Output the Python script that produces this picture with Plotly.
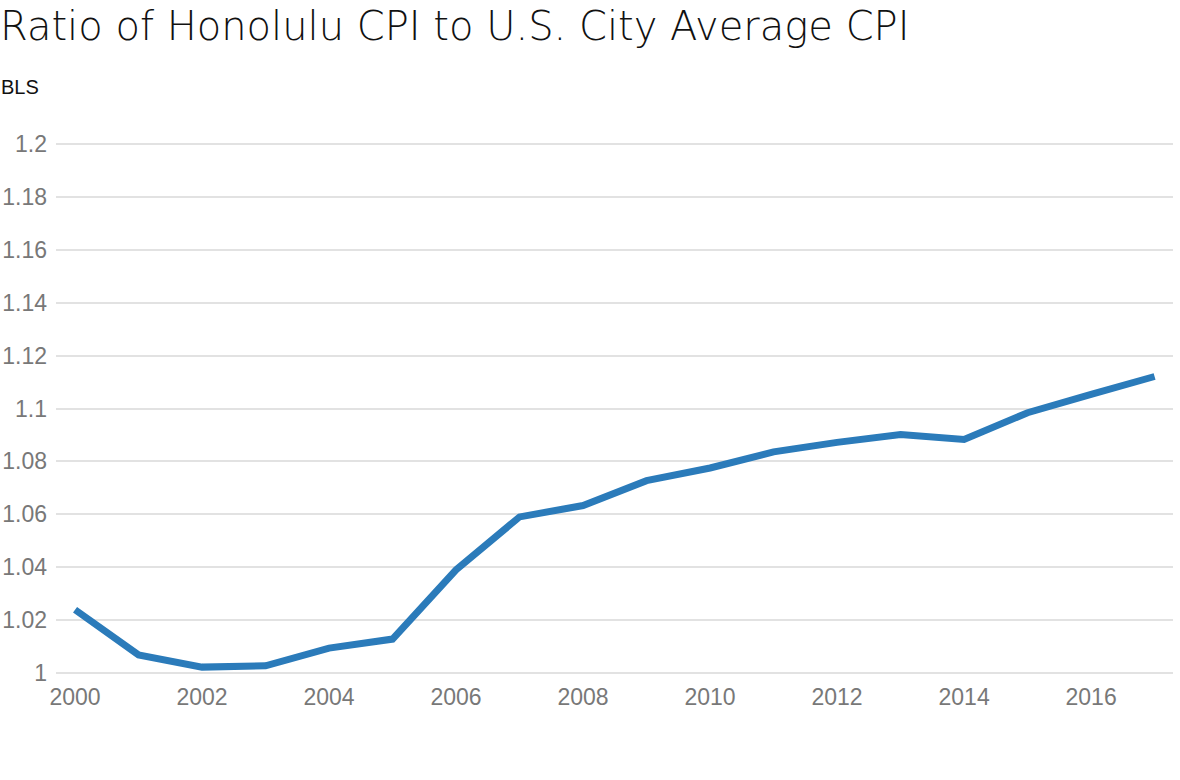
import plotly.graph_objects as go

years = list(range(2000, 2018))
ratio = [1.0239, 1.0068, 1.0022, 1.0027, 1.0094, 1.0128, 1.0390, 1.0590, 1.0633,
         1.0727, 1.0775, 1.0836, 1.0872, 1.0902, 1.0883, 1.0984, 1.1053, 1.1121]
x_ticks = list(range(2000, 2017, 2))
y_ticks = [1.0, 1.02, 1.04, 1.06, 1.08, 1.1, 1.12, 1.14, 1.16, 1.18, 1.2]
y_labels = ["1", "1.02", "1.04", "1.06", "1.08", "1.1", "1.12", "1.14", "1.16", "1.18", "1.2"]

title_text = "Ratio of Honolulu CPI to U.S. City Average CPI"
subtitle_text = "BLS"

fig = go.Figure()
fig.add_trace(go.Scatter(
    x=years, y=ratio, mode="lines",
    line=dict(color="#2b7bba", width=7),
    hoverinfo="x+y", showlegend=False,
))

tick_font = dict(family="Liberation Sans, Helvetica, Arial, sans-serif", size=23, color="#787878")

fig.update_layout(
    width=1180, height=780,
    paper_bgcolor="white", plot_bgcolor="white",
    margin=dict(l=56, r=7, t=143, b=106, autoexpand=False),
    title=dict(
        text=title_text, x=0.0, xref="container", xanchor="left",
        y=0.985, yref="container", yanchor="top",
        font=dict(family="DejaVu Sans, Open Sans, sans-serif", size=40, color="#111", weight=200),
    ),
    annotations=[dict(
        text=subtitle_text, xref="paper", yref="paper",
        x=-57/1117, y=1 + (143-87)/531, xanchor="left", yanchor="middle",
        showarrow=False, font=dict(family="Liberation Sans, Helvetica, Arial, sans-serif", size=20, color="#111"),
    )],
    xaxis=dict(
        range=[1999.70, 2017.29], tickmode="array", tickvals=x_ticks,
        ticktext=[str(v) for v in x_ticks], showgrid=False, zeroline=False,
        showline=False, ticks="", tickfont=tick_font, ticklabelstandoff=7,
        automargin=False,
    ),
    yaxis=dict(
        range=[0.9996, 1.2004], tickmode="array", tickvals=y_ticks, ticktext=y_labels,
        showgrid=True, gridcolor="#e2e2e2", gridwidth=1.5, zeroline=False,
        showline=False, ticks="", tickfont=tick_font, ticklabelstandoff=8,
        automargin=False,
    ),
)

fig.write_html("out.html", config={"displayModeBar": False},
               post_script="document.body.style.margin='0';document.body.style.padding='0';")
